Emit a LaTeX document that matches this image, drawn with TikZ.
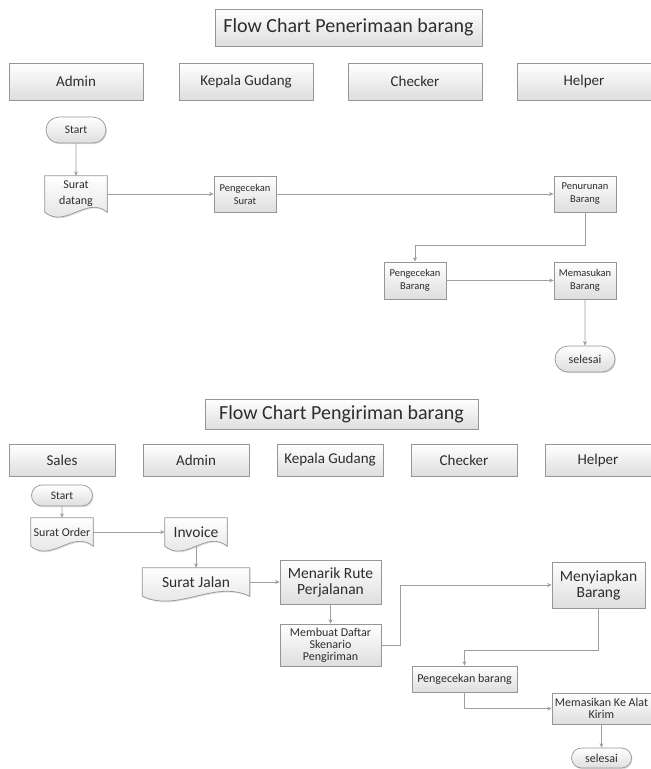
\documentclass[tikz,border=0pt]{standalone}
\usepackage{fontspec}
\setmainfont{Carlito}
\usetikzlibrary{shapes.misc,shadows,arrows.meta,calc,backgrounds}
\definecolor{garis}{RGB}{150,150,150}
\definecolor{teks}{RGB}{45,45,45}
\definecolor{dasar}{RGB}{222,222,222}
\newcommand{\fs}[2]{\fontsize{#1}{#2}\selectfont}
% bentuk dokumen (bawah bergelombang)
\newcommand{\dokumen}[1]{%
  \draw[dokgaris] (#1.south west) -- (#1.north west) -- (#1.north east) -- (#1.south east)
    .. controls ($(#1.south west)!0.667!(#1.south east)+(0,-17)$) and ($(#1.south west)!0.333!(#1.south east)+(0,17)$) .. (#1.south west) -- cycle;}
\tikzset{
    bayang/.style={drop shadow={opacity=0.25,shadow xshift=1pt,shadow yshift=-1.2pt}},
    kotak/.style={rectangle,draw=garis,line width=0.7pt,top color=white,bottom color=dasar,bayang,align=center,inner sep=1pt,text=teks,font=#1},
    ujung/.style={rounded rectangle,draw=garis,line width=0.7pt,top color=white,bottom color=dasar,bayang,inner sep=1pt,text=teks,font=#1},
    dok/.style={rectangle,align=center,inner sep=1pt,text=teks,font=#1},
    dokgaris/.style={draw=garis,line width=0.7pt,top color=white,bottom color=dasar,bayang},
    lajur/.style={kotak=#1},
    judul/.style={kotak=\fs{20}{24}},
    panah/.style={-{Stealth[length=4.5pt,width=4pt]},line width=0.7pt,draw=gray!75},
}
\begin{document}
\begin{tikzpicture}[x=1pt,y=-1pt]
\useasboundingbox (0,0) rectangle (651,769);
% Flow Chart Penerimaan barang
\node[judul,minimum width=267,minimum height=37] (judul1) at (348.5,27.5) {Flow Chart Penerimaan barang};
\node[lajur=\fs{15}{18},minimum width=134,minimum height=37] (admin1) at (76,81.5) {Admin};
\node[lajur=\fs{15}{18},minimum width=134,minimum height=37] (kepala1) at (246,81.5) {Kepala Gudang};
\node[lajur=\fs{15}{18},minimum width=134,minimum height=37] (checker1) at (415,81.5) {Checker};
\node[lajur=\fs{15}{18},minimum width=134,minimum height=37] (helper1) at (584,81.5) {Helper};
\node[ujung=\fs{11.5}{14},minimum width=62,minimum height=26] (mulai1) at (76,130) {Start};
\node[dok=\fs{12}{16},minimum width=62,minimum height=36] (sd) at (76,194) {Surat\\datang};
\node[kotak=\fs{10.5}{13},minimum width=62,minimum height=36] (ceksurat) at (245,194) {Pengecekan\\Surat};
\node[kotak=\fs{10.5}{13},minimum width=62,minimum height=36] (turun) at (585,194) {Penurunan\\Barang};
\node[kotak=\fs{10.5}{13},minimum width=62,minimum height=37] (cekbarang1) at (415,280.5) {Pengecekan\\Barang};
\node[kotak=\fs{10.5}{13},minimum width=62,minimum height=37] (masuk) at (585,280.5) {Memasukan\\Barang};
\node[ujung=\fs{12}{14},minimum width=62,minimum height=26] (selesai1) at (585,359) {selesai};
% Flow Chart Pengiriman barang
\node[judul,minimum width=273,minimum height=30] (judul2) at (341.5,414) {Flow Chart Pengiriman barang};
\node[lajur=\fs{15}{18},minimum width=106,minimum height=32] (sales) at (62,460) {Sales};
\node[lajur=\fs{15}{18},minimum width=106,minimum height=32] (admin2) at (196,460) {Admin};
\node[lajur=\fs{15}{18},minimum width=106,minimum height=32] (kepala2) at (330,460) {Kepala Gudang};
\node[lajur=\fs{15}{18},minimum width=106,minimum height=32] (checker2) at (464,460) {Checker};
\node[lajur=\fs{15}{18},minimum width=106,minimum height=32] (helper2) at (598,460) {Helper};
\node[ujung=\fs{11.5}{14},minimum width=63,minimum height=21] (mulai2) at (62,495.5) {Start};
\node[dok=\fs{12}{14},minimum width=62,minimum height=28] (order) at (62,532) {Surat Order};
\node[dok=\fs{15.5}{18},minimum width=62,minimum height=28] (invoice) at (196,532) {Invoice};
\node[dok=\fs{15.5}{18},minimum width=107,minimum height=28] (suratjalan) at (196,582) {Surat Jalan};
\node[kotak=\fs{15.5}{16},minimum width=101,minimum height=44] (rute) at (330.5,582) {Menarik Rute\\Perjalanan};
\node[kotak=\fs{12}{12},minimum width=101,minimum height=42] (skenario) at (330.5,645) {Membuat Daftar\\Skenario\\Pengiriman};
\node[kotak=\fs{15.5}{16},minimum width=93,minimum height=46] (siapkan) at (598.5,585) {Menyiapkan\\Barang};
\node[kotak=\fs{12}{14},minimum width=105,minimum height=26] (cekbarang2) at (464.5,679) {Pengecekan barang};
\node[kotak=\fs{12}{12},minimum width=99,minimum height=31] (alat) at (601.5,708.5) {Memasikan Ke Alat\\Kirim};
\node[ujung=\fs{12}{14},minimum width=62,minimum height=20] (selesai2) at (601.5,758) {selesai};
\begin{scope}[on background layer]
\fill[white] (0,0) rectangle (651,769);
\dokumen{sd} \dokumen{order} \dokumen{invoice} \dokumen{suratjalan}
\end{scope}
\draw[panah] (mulai1) -- (sd); \draw[panah] (sd) -- (ceksurat); \draw[panah] (ceksurat) -- (turun);
\draw[panah] (turun.south) -- ++(0,33) -| (cekbarang1.north); \draw[panah] (cekbarang1) -- (masuk); \draw[panah] (masuk) -- (selesai1);
\draw[panah] (mulai2) -- (order); \draw[panah] (order) -- (invoice); \draw[panah] (invoice) -- (suratjalan);
\draw[panah] (suratjalan) -- (rute); \draw[panah] (rute) -- (skenario);
\draw[panah] (skenario.east) -- ++(19,0) |- (siapkan.west);
\draw[panah] (siapkan.south) -- ++(0,42) -| (cekbarang2.north);
\draw[panah] (cekbarang2.south) |- (alat.west); \draw[panah] (alat) -- (selesai2);
\end{tikzpicture}
\end{document}
